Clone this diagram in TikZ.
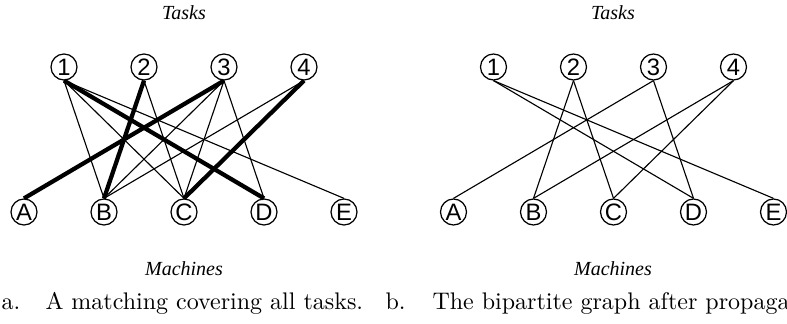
\documentclass[tikz,border=0pt]{standalone}
\usepackage{fontspec}
\usetikzlibrary{positioning}
\newfontfamily\vertexfont{Liberation Sans}
\newfontfamily\sidefont{Liberation Serif}

\begin{document}
\begin{tikzpicture}[
    x=0.4pt, y=-0.4pt,
    node distance=32pt, on grid,
    vertex/.style={circle, draw, line width=0.5pt, inner sep=0pt, minimum size=10.4pt, font=\vertexfont\fontsize{9.5}{9.5}\selectfont},
    side/.style={font=\sidefont\itshape\fontsize{8}{8}\selectfont},
    caption/.style={anchor=base west, inner sep=0pt, font=\fontsize{9.6}{12}\selectfont},
    edge/.style={line width=0.45pt},
    match/.style={line width=1.7pt}
]
    \useasboundingbox (0,0) rectangle (787,324);
    \clip (0,0) rectangle (787,324);

    % Panel a: tasks
    \node[side] (tasksa) at (184,13) {Tasks};
    \node[vertex] (t1) at (64,67) {1};
    \node[vertex, right=of t1] (t2) {2};
    \node[vertex, right=of t2] (t3) {3};
    \node[vertex, right=of t3] (t4) {4};

    % Panel a: machines
    \node[vertex] (mA) at (24,212) {A};
    \node[vertex, right=of mA] (mB) {B};
    \node[vertex, right=of mB] (mC) {C};
    \node[vertex, right=of mC] (mD) {D};
    \node[vertex, right=of mD] (mE) {E};
    \node[side] (machinesa) at (184,269) {Machines};

    % Panel a: edges
    \draw[edge] (t1.south) -- (mB.north);
    \draw[edge] (t1.south) -- (mC.north);
    \draw[edge] (t1.south) -- (mE.north);
    \draw[edge] (t2.south) -- (mC.north);
    \draw[edge] (t3.south) -- (mB.north);
    \draw[edge] (t3.south) -- (mC.north);
    \draw[edge] (t3.south) -- (mD.north);
    \draw[edge] (t4.south) -- (mB.north);

    % Panel a: the matching
    \draw[match] (t1.south) -- (mD.north);
    \draw[match] (t2.south) -- (mB.north);
    \draw[match] (t3.south) -- (mA.north);
    \draw[match] (t4.south) -- (mC.north);

    % Panel b: tasks
    \node[side] (tasksb) at (613,13) {Tasks};
    \node[vertex] (t1b) at (493.5,67) {1};
    \node[vertex, right=of t1b] (t2b) {2};
    \node[vertex, right=of t2b] (t3b) {3};
    \node[vertex, right=of t3b] (t4b) {4};

    % Panel b: machines
    \node[vertex] (mAb) at (453.5,212) {A};
    \node[vertex, right=of mAb] (mBb) {B};
    \node[vertex, right=of mBb] (mCb) {C};
    \node[vertex, right=of mCb] (mDb) {D};
    \node[vertex, right=of mDb] (mEb) {E};
    \node[side] (machinesb) at (613,269) {Machines};

    % Panel b: edges left after propagation
    \draw[edge] (t1b.south) -- (mDb.north);
    \draw[edge] (t1b.south) -- (mEb.north);
    \draw[edge] (t2b.south) -- (mBb.north);
    \draw[edge] (t2b.south) -- (mCb.north);
    \draw[edge] (t3b.south) -- (mAb.north);
    \draw[edge] (t3b.south) -- (mDb.north);
    \draw[edge] (t4b.south) -- (mBb.north);
    \draw[edge] (t4b.south) -- (mCb.north);

    % Captions
    \node[caption] (capa) at (1,310) {a.};
    \node[caption] (texta) at (45,310) {A matching covering all tasks.};
    \node[caption] (capb) at (385,310) {b.};
    \node[caption] (textb) at (432,310) {The bipartite graph after propagation.};
\end{tikzpicture}
\end{document}
